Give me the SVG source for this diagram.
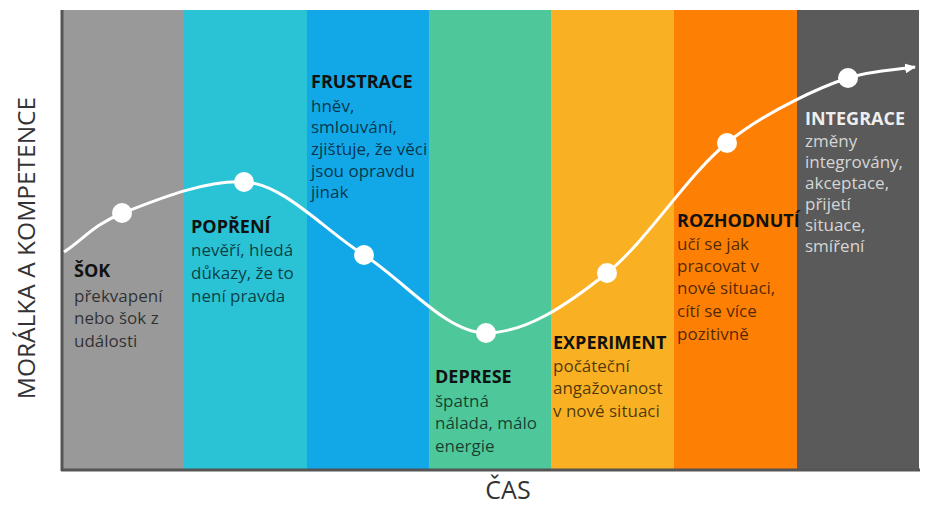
<svg xmlns="http://www.w3.org/2000/svg" width="928" height="506" viewBox="0 0 928 506">
<style>
.t{font-family:"Open Sans","Liberation Sans",sans-serif;font-weight:700;font-size:18px;fill:#111}
.b{font-family:"Open Sans","Liberation Sans",sans-serif;font-size:17px;fill:#000;fill-opacity:0.7}
.tl{fill:#eeeeee}
.bl{fill:#d6d6d6;fill-opacity:1}
.ax{font-family:"Open Sans","Liberation Sans",sans-serif;font-size:24.5px;fill:#333}
.pt{fill:#fff}
</style>
<defs>
<marker id="arr" markerWidth="12" markerHeight="10" refX="10" refY="5" orient="auto" markerUnits="userSpaceOnUse">
<path d="M0,0 L11,5 L0,10 Z" fill="#fff"/>
</marker>
</defs>
<rect width="928" height="506" fill="#fff"/>
<g id="columns">
<rect x="62" y="10" width="122" height="460" fill="#999999"/>
<rect x="184" y="10" width="123" height="460" fill="#29c3d5"/>
<rect x="307" y="10" width="122" height="460" fill="#12a7e6"/>
<rect x="429" y="10" width="122" height="460" fill="#4ec89b"/>
<rect x="551" y="10" width="123" height="460" fill="#f9b123"/>
<rect x="674" y="10" width="123" height="460" fill="#fd7f04"/>
<rect x="797" y="10" width="122" height="460" fill="#5a5a5a"/>
</g>
<g id="axes">
<line x1="62" y1="10" x2="62" y2="471" stroke="#555" stroke-width="3"/>
<line x1="61" y1="470" x2="920" y2="470" stroke="#555" stroke-width="3"/>
<text class="ax" transform="translate(35,248) rotate(-90)" text-anchor="middle">MORÁLKA A KOMPETENCE</text>
<text class="ax" x="508" y="499" text-anchor="middle" style="font-size:25px">ČAS</text>
</g>
<g id="connectors">
<path d="M64,252 C84,239 93,224.7 123,213 C153,201.3 205,179.3 245,182 C285,184.7 324,229.8 364,255 C404,280.2 446,333 486,333 C526,333 567,305 607,273 C647,241 687,175.5 727,143 C767,110.5 823,86 848,78 C873,70 895,70 915,67" fill="none" stroke="#fff" stroke-width="3" marker-end="url(#arr)"/>
</g>
<g id="sok">
<circle class="pt" cx="122" cy="213" r="10"/>
<text class="t" x="74" y="277">ŠOK</text>
<text class="b" x="74" y="302">překvapení</text>
<text class="b" x="74" y="324">nebo šok z</text>
<text class="b" x="74" y="347">události</text>
</g>
<g id="popreni">
<circle class="pt" cx="244" cy="182" r="10"/>
<text class="t" x="191" y="233">POPŘENÍ</text>
<text class="b" x="191" y="256">nevěří, hledá</text>
<text class="b" x="191" y="279">důkazy, že to</text>
<text class="b" x="191" y="302">není pravda</text>
</g>
<g id="frustrace">
<circle class="pt" cx="364" cy="255" r="10"/>
<text class="t" x="311" y="88">FRUSTRACE</text>
<text class="b" x="311" y="112">hněv,</text>
<text class="b" x="311" y="133">smlouvání,</text>
<text class="b" x="311" y="155">zjišťuje, že věci</text>
<text class="b" x="311" y="177">jsou opravdu</text>
<text class="b" x="311" y="198">jinak</text>
</g>
<g id="deprese">
<circle class="pt" cx="486" cy="333" r="10"/>
<text class="t" x="435" y="383">DEPRESE</text>
<text class="b" x="435" y="407">špatná</text>
<text class="b" x="435" y="429">nálada, málo</text>
<text class="b" x="435" y="452">energie</text>
</g>
<g id="experiment">
<circle class="pt" cx="607" cy="273" r="10"/>
<text class="t" x="553" y="349">EXPERIMENT</text>
<text class="b" x="553" y="372">počáteční</text>
<text class="b" x="553" y="394">angažovanost</text>
<text class="b" x="553" y="417">v nové situaci</text>
</g>
<g id="rozhodnuti">
<circle class="pt" cx="727" cy="143" r="10"/>
<text class="t" x="677" y="227">ROZHODNUTÍ</text>
<text class="b" x="677" y="250">učí se jak</text>
<text class="b" x="677" y="272">pracovat v</text>
<text class="b" x="677" y="294">nové situaci,</text>
<text class="b" x="677" y="317">cítí se více</text>
<text class="b" x="677" y="340">pozitivně</text>
</g>
<g id="integrace">
<circle class="pt" cx="848" cy="78" r="10"/>
<text class="t tl" x="805" y="125">INTEGRACE</text>
<text class="b bl" x="805" y="147">změny</text>
<text class="b bl" x="805" y="168">integrovány,</text>
<text class="b bl" x="805" y="189">akceptace,</text>
<text class="b bl" x="805" y="210">přijetí</text>
<text class="b bl" x="805" y="231">situace,</text>
<text class="b bl" x="805" y="252">smíření</text>
</g>
</svg>
